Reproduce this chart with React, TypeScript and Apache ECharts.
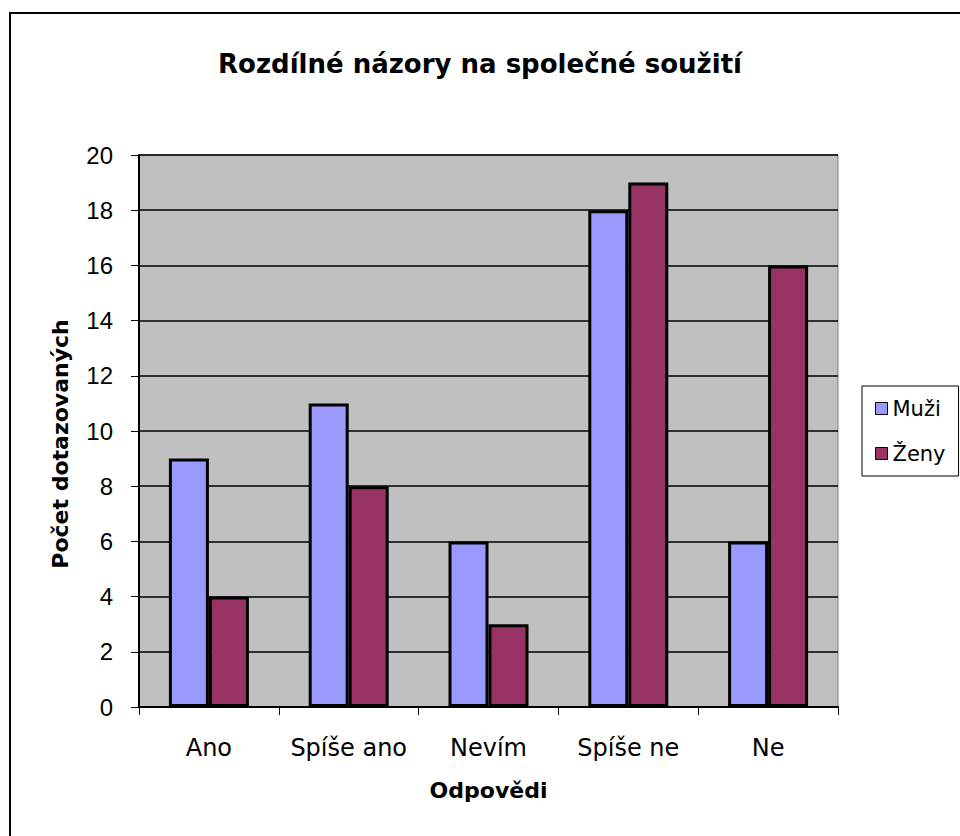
import React, { useEffect, useRef } from "react";
import * as echarts from "echarts";

const categories = ["Ano", "Spíše ano", "Nevím", "Spíše ne", "Ne"];
const muzi = [9, 11, 6, 18, 6];
const zeny = [4, 8, 3, 19, 16];
const seriesNames = ["Muži", "Ženy"];
const titleText = "Rozdílné názory na společné soužití";
const yName = "Počet dotazovaných";
const xName = "Odpovědi";

const WIDE = "'DejaVu Sans', Verdana, sans-serif";
const ARIAL = "'Liberation Sans', Arial, sans-serif";

export default function App() {
  const ref = useRef<HTMLDivElement>(null);
  useEffect(() => {
    document.body.style.margin = "0";
    const chart = echarts.init(ref.current!, null, { renderer: "svg" });
    chart.setOption({
      animation: false,
      backgroundColor: "#ffffff",
      textStyle: { fontFamily: WIDE, color: "#000" },
      title: {
        text: titleText,
        left: "center",
        top: 46,
        textStyle: { fontFamily: WIDE, fontSize: 26, fontWeight: "bold", color: "#000" },
      },
      grid: {
        left: 139,
        top: 155,
        width: 699,
        height: 552,
        show: true,
        backgroundColor: "#C0C0C0",
        borderColor: "#808080",
        borderWidth: 1,
      },
      legend: {
        orient: "vertical",
        left: 862,
        top: 386,
        padding: [12, 13, 12, 13],
        itemWidth: 12,
        itemHeight: 12,
        itemGap: 24,
        icon: "rect",
        borderColor: "#000",
        borderWidth: 1,
        backgroundColor: "#fff",
        textStyle: { fontFamily: WIDE, fontSize: 21, color: "#000" },
        data: seriesNames.map((n) => ({ name: n, itemStyle: { borderColor: "#000", borderWidth: 1 } })),
      },
      xAxis: {
        type: "category",
        data: categories,
        name: xName,
        nameLocation: "middle",
        nameGap: 72,
        nameTextStyle: { fontFamily: WIDE, fontSize: 22, fontWeight: "bold", color: "#000" },
        axisLine: { show: true, lineStyle: { color: "#000", width: 2 } },
        axisTick: { show: true, length: 8, lineStyle: { color: "#000", width: 1 } },
        axisLabel: { fontFamily: WIDE, fontSize: 24, color: "#000", margin: 29, interval: 0, hideOverlap: false },
        splitLine: { show: false },
      },
      yAxis: {
        type: "value",
        min: 0,
        max: 20,
        interval: 2,
        name: yName,
        nameLocation: "middle",
        nameGap: 68,
        nameTextStyle: {
          fontFamily: WIDE,
          fontSize: 22,
          fontWeight: "bold",
          color: "#000",
          padding: [0, 26, 0, 0],
        },
        axisLine: { show: true, lineStyle: { color: "#000", width: 2 } },
        axisTick: { show: true, length: 8, lineStyle: { color: "#000", width: 1 } },
        axisLabel: { fontFamily: ARIAL, fontSize: 24, color: "#000", margin: 26 },
        splitLine: { show: true, lineStyle: { color: "#000", width: 1.5 } },
      },
      series: [
        {
          name: seriesNames[0],
          type: "bar",
          data: muzi,
          barWidth: 40,
          barGap: "0%",
          itemStyle: { color: "#9999FF", borderColor: "#000", borderWidth: 3 },
        },
        {
          name: seriesNames[1],
          type: "bar",
          data: zeny,
          barWidth: 40,
          barGap: "0%",
          itemStyle: { color: "#993366", borderColor: "#000", borderWidth: 3 },
        },
      ],
      graphic: [
        {
          type: "rect",
          shape: { x: 10, y: 13, width: 1000, height: 1000 },
          style: { fill: "none", stroke: "#000", lineWidth: 2 },
          silent: true,
        },
      ],
    });
    return () => chart.dispose();
  }, []);
  return <div ref={ref} style={{ width: 960, height: 836 }} />;
}
